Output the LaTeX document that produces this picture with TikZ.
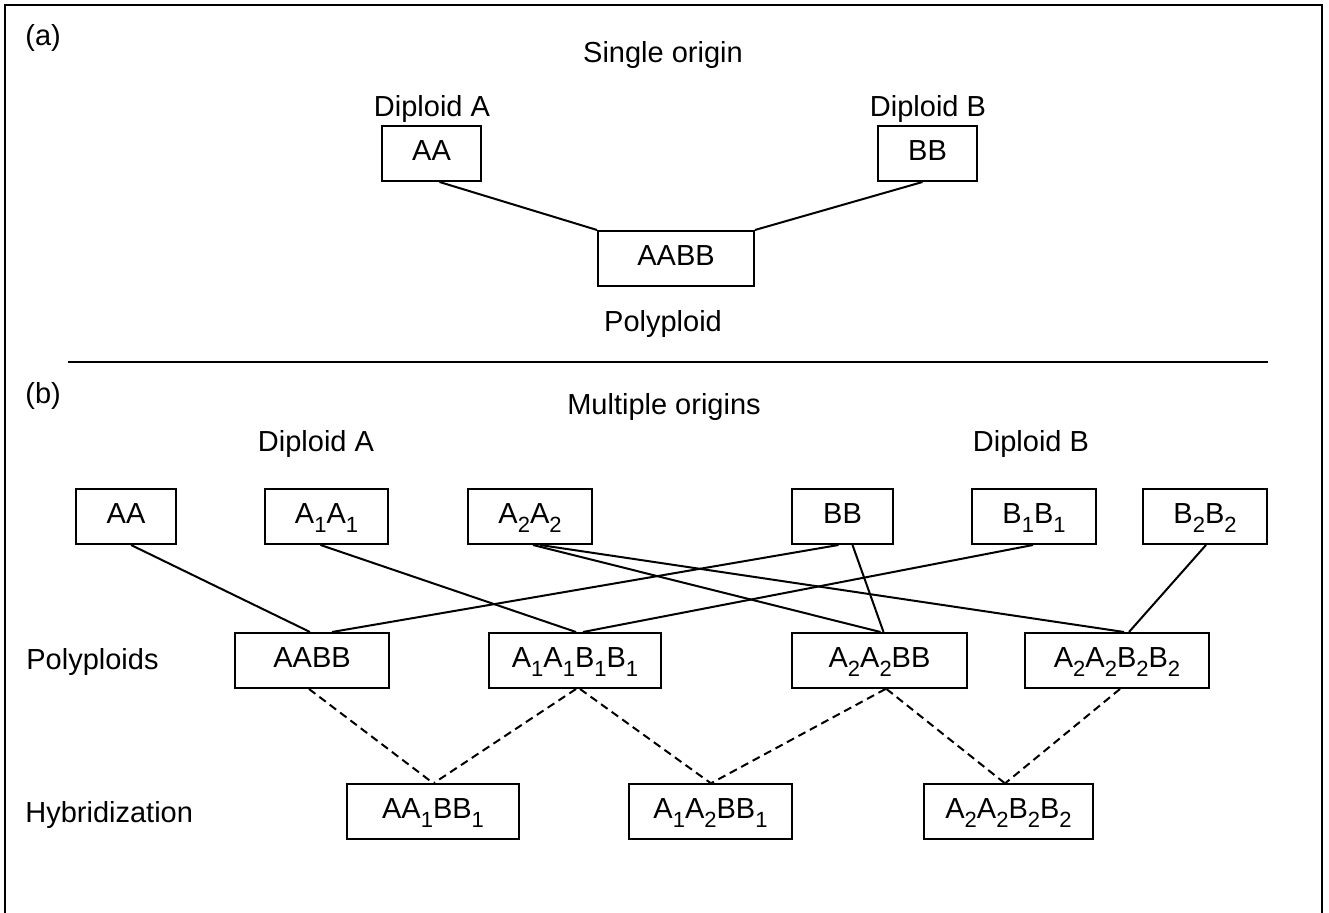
\documentclass[tikz,border=0pt]{standalone}
\usepackage{fontspec}
\setmainfont{Liberation Sans}
\usetikzlibrary{calc}
\newcommand\sbs[1]{\raisebox{-0.3em}{\fontsize{11}{11}\selectfont #1}}
\begin{document}
\begin{tikzpicture}[x=0.5pt,y=-0.5pt,
  every node/.style={font=\fontsize{14.5}{17}\selectfont},
  bx/.style={draw, line width=1pt, minimum height=27.5pt, inner sep=0pt, text height=0.9em, text depth=0.184em},
  lbl/.style={anchor=base, inner sep=0pt},
  lbll/.style={anchor=base west, inner sep=0pt},
  conn/.style={line width=1pt},
  dconn/.style={line width=1pt, dash pattern=on 4pt off 2.5pt}]
\useasboundingbox (0,0) rectangle (1329,913);
% frame
\draw[line width=1.1pt] (5,913) -- (5,5) -- (1322,5) -- (1322,913);

% ---------- (a) ----------
\node[lbll] (la) at (25,46) {(a)};
\node[lbl] (tso) at (663,63) {Single origin};
\node[lbl] (dA1) at (432,117) {Diploid A};
\node[lbl] (dB1) at (928,117) {Diploid B};
\node[bx, minimum width=49.5pt] (aAA) at (431.5,153.5) {AA};
\node[bx, minimum width=49.5pt] (aBB) at (927.5,153.5) {BB};
\node[bx, minimum width=78pt] (aAABB) at (676,258.5) {AABB};
\node[lbl] (poly1) at (663,332) {Polyploid};
\draw[conn] ($(aAA.south)+(8,0)$) -- (aAABB.north west);
\draw[conn] ($(aBB.south)+(-5,0)$) -- (aAABB.north east);

% separator
\coordinate (s1) at (68,362);
\coordinate (s2) at (1268,362);
\draw[conn] (s1) -- (s2);

% ---------- (b) ----------
\node[lbll] (lb) at (25,404) {(b)};
\node[lbl] (tmo) at (664,415) {Multiple origins};
\node[lbl] (dA2) at (316,452) {Diploid A};
\node[lbl] (dB2) at (1031,452) {Diploid B};

% top row
\node[bx, minimum width=50pt]   (tAA) at (126,516.5) {AA};
\node[bx, minimum width=61.5pt] (tA1) at (326.5,516.5) {A\sbs{1}A\sbs{1}};
\node[bx, minimum width=62pt]   (tA2) at (530,516.5) {A\sbs{2}A\sbs{2}};
\node[bx, minimum width=50.5pt] (tBB) at (842.5,516.5) {BB};
\node[bx, minimum width=62pt]   (tB1) at (1034,516.5) {B\sbs{1}B\sbs{1}};
\node[bx, minimum width=62pt]   (tB2) at (1205,516.5) {B\sbs{2}B\sbs{2}};

% polyploid row
\node[lbll] (lpoly) at (26,670) {Polyploids};
\node[bx, minimum width=77pt] (pAABB) at (312,660.5) {AABB};
\node[bx, minimum width=86pt] (pA1) at (575,660.5) {A\sbs{1}A\sbs{1}B\sbs{1}B\sbs{1}};
\node[bx, minimum width=87.5pt] (pA2BB) at (879.5,660.5) {A\sbs{2}A\sbs{2}BB};
\node[bx, minimum width=92pt] (pA2B2) at (1117,660.5) {A\sbs{2}A\sbs{2}B\sbs{2}B\sbs{2}};

% hybridization row
\node[lbll] (lhyb) at (25,823) {Hybridization};
\node[bx, minimum width=86pt] (hAA1) at (433,811.5) {AA\sbs{1}BB\sbs{1}};
\node[bx, minimum width=81.5pt] (hA1A2) at (710.5,811.5) {A\sbs{1}A\sbs{2}BB\sbs{1}};
\node[bx, minimum width=84.5pt] (hA2) at (1008.5,811.5) {A\sbs{2}A\sbs{2}B\sbs{2}B\sbs{2}};

% solid connectors
\draw[conn] ($(tAA.south)+(5,0)$) -- ($(pAABB.north)+(-2,0)$);
\draw[conn] ($(tA1.south)+(-6,0)$) -- ($(pA1.north)+(1,0)$);
\draw[conn] ($(tA2.south)+(3,0)$) -- ($(pA2BB.north)+(1,0)$);
\draw[conn] ($(tA2.south)+(10,0)$) -- ($(pA2B2.north)+(7,0)$);
\draw[conn] ($(tBB.south)+(-4,0)$) -- ($(pAABB.north)+(20,0)$);
\draw[conn] ($(tBB.south)+(10,0)$) -- ($(pA2BB.north)+(4,0)$);
\draw[conn] ($(tB1.south)+(-1,0)$) -- ($(pA1.north)+(8,0)$);
\draw[conn] ($(tB2.south)+(1,0)$) -- ($(pA2B2.north)+(12,0)$);

% dashed connectors
\draw[dconn] ($(pAABB.south)+(-3,0)$) -- (hAA1.north);
\draw[dconn] ($(pA1.south)+(1,0)$) -- ($(hAA1.north)+(1,0)$);
\draw[dconn] ($(pA1.south)+(5,0)$) -- (hA1A2.north);
\draw[dconn] ($(pA2BB.south)+(6,0)$) -- ($(hA1A2.north)+(1,0)$);
\draw[dconn] ($(pA2BB.south)+(7,0)$) -- ($(hA2.north)+(-4,0)$);
\draw[dconn] ($(pA2B2.south)+(3,0)$) -- ($(hA2.north)+(-3,0)$);
\end{tikzpicture}
\end{document}
